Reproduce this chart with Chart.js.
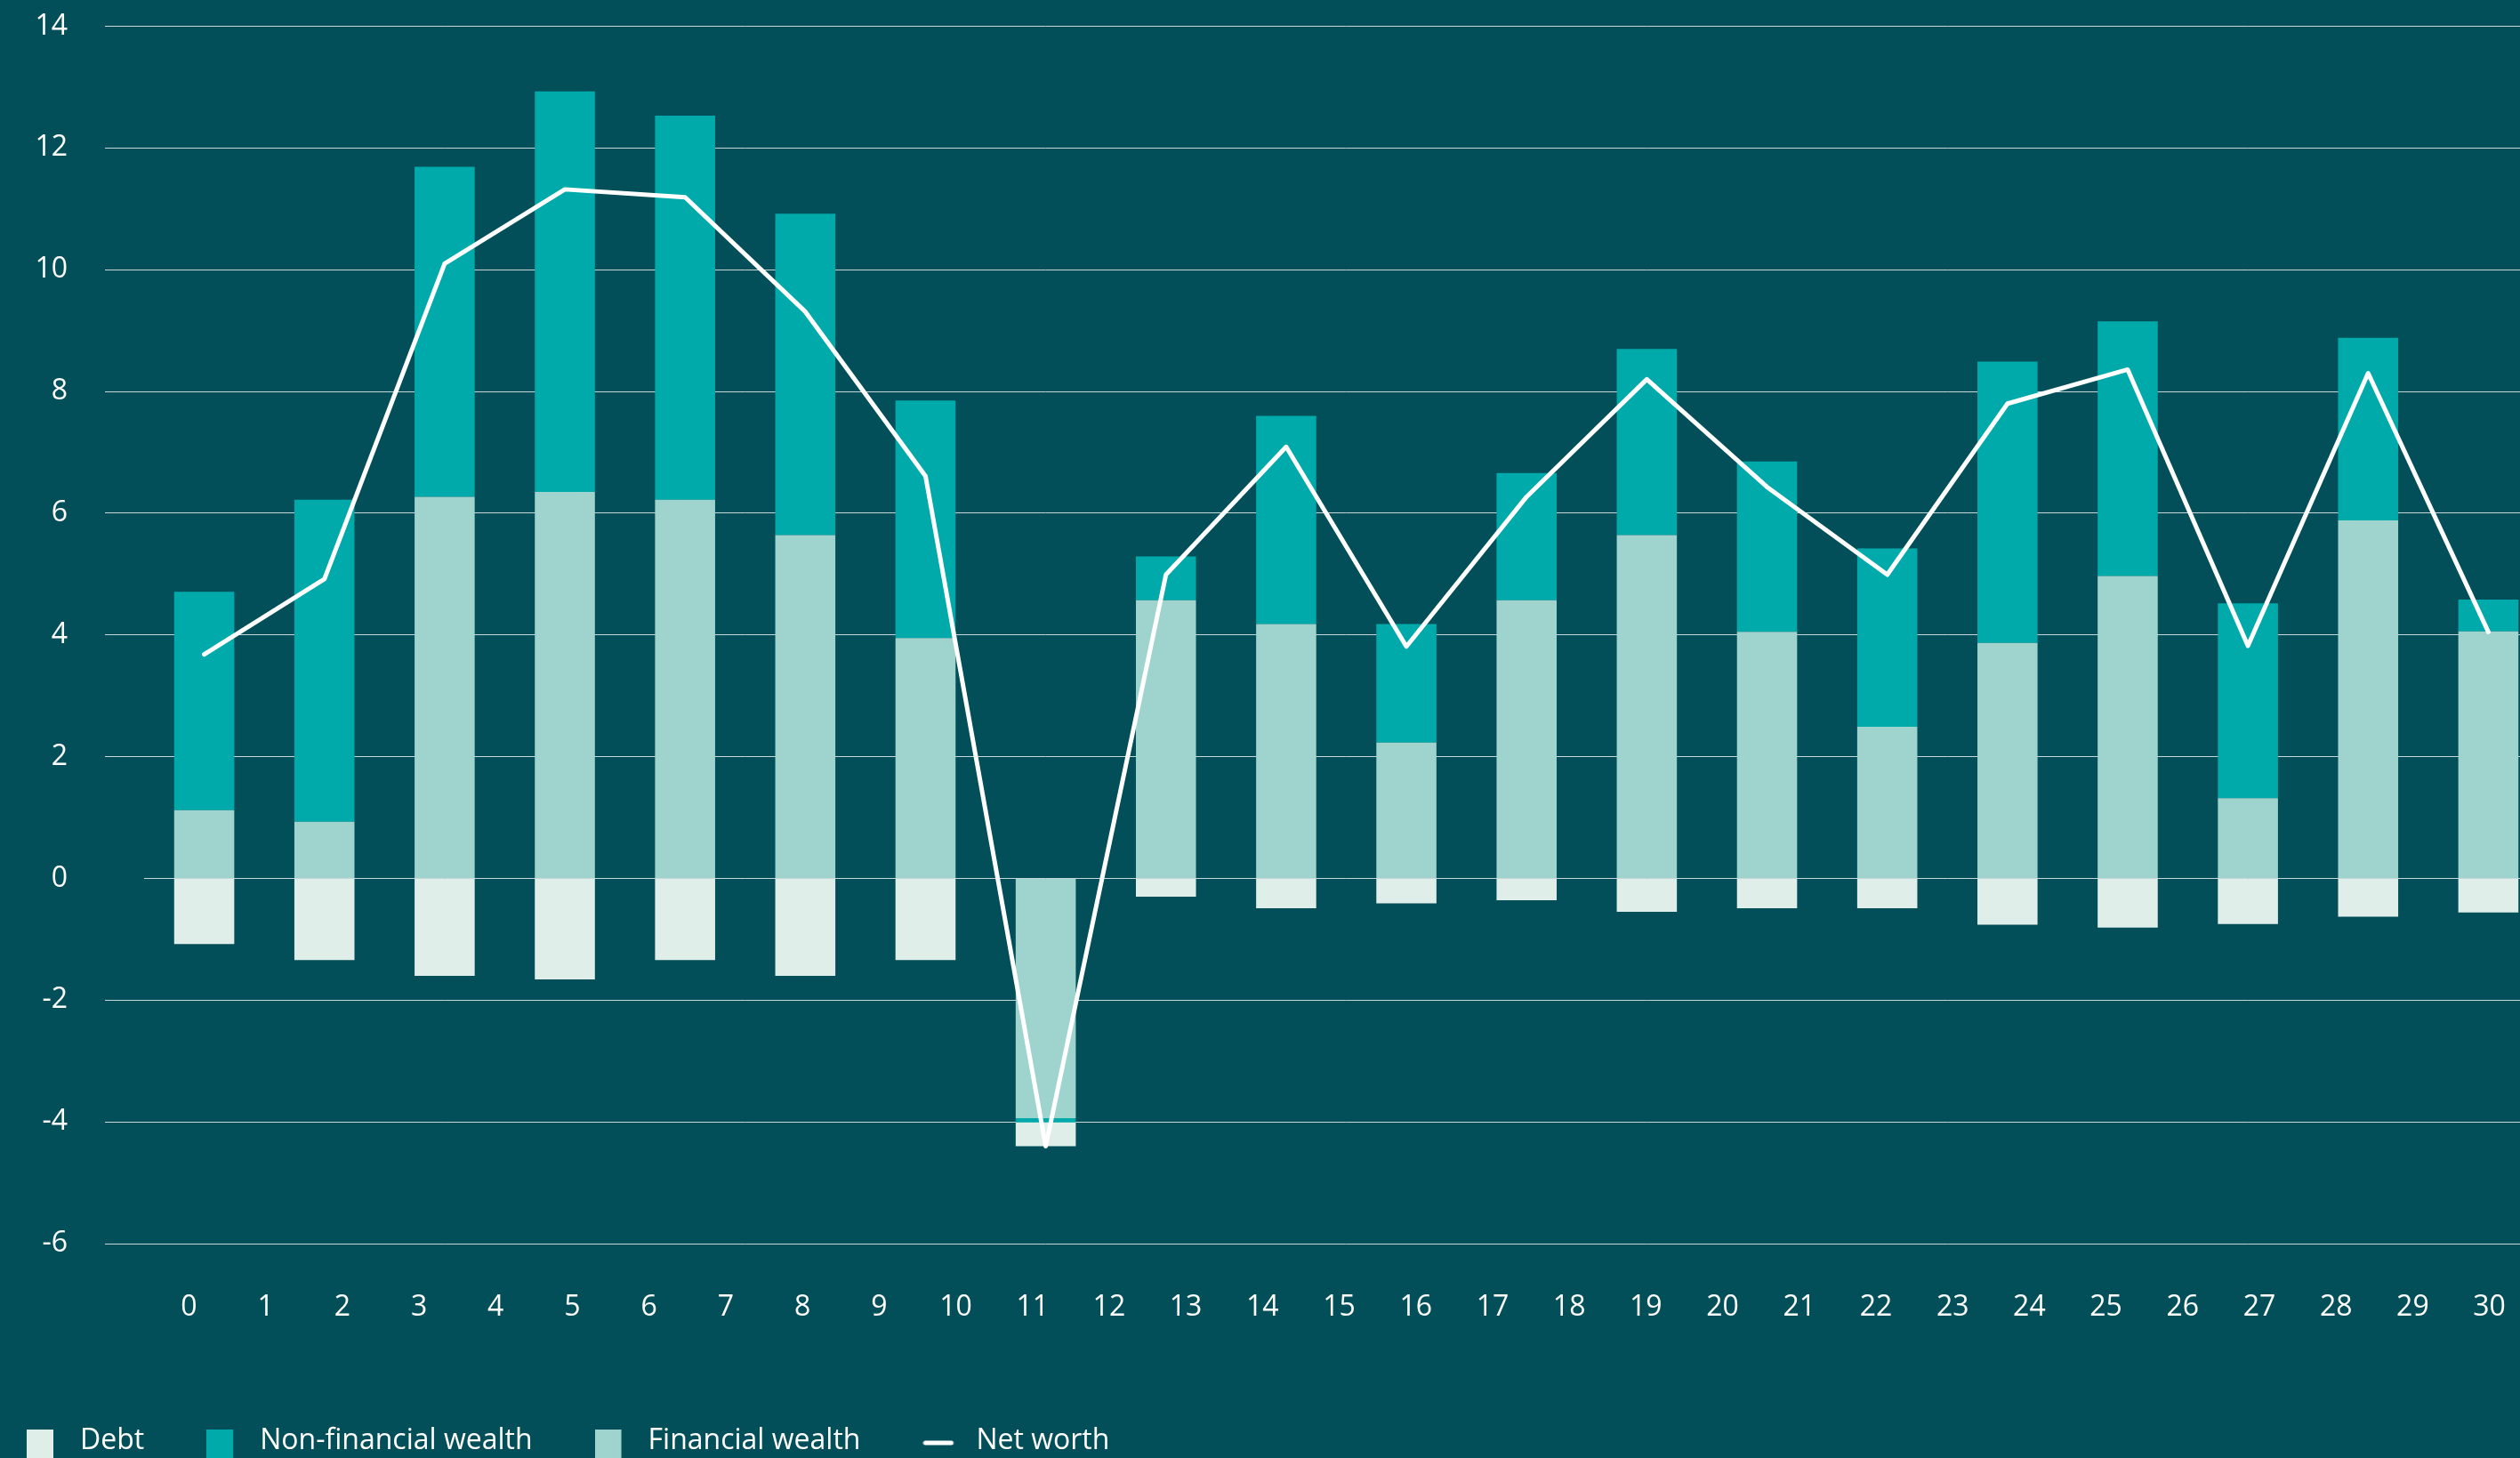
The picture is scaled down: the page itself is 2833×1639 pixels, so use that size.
<!DOCTYPE html>
<html>
<head>
<meta charset="utf-8">
<title>Net worth</title>
<script src="https://cdn.jsdelivr.net/npm/chart.js@4.4.1/dist/chart.umd.min.js"></script>
<style>
  html, body { margin: 0; padding: 0; background: #034f59; overflow: hidden; }
  canvas { display: block; }
</style>
</head>
<body>
<canvas id="wealthChart" width="2900" height="1646"></canvas>
<script>
// one category per bar group
const categories = ["1", "2", "3", "4", "5", "6", "7", "8", "9", "10",
  "11", "12", "13", "14", "15", "16", "17", "18", "19", "20"];
// labels shown along the bottom axis
const tickLabels = ["0", "1", "2", "3", "4", "5", "6", "7", "8", "9", "10",
  "11", "12", "13", "14", "15", "16", "17", "18", "19", "20",
  "21", "22", "23", "24", "25", "26", "27", "28", "29", "30"];

const debt = [-1.08, -1.34, -1.60, -1.66, -1.34, -1.60, -1.34, -0.39, -0.30, -0.49,
  -0.41, -0.36, -0.55, -0.49, -0.49, -0.76, -0.81, -0.75, -0.63, -0.56];
const nonFinancial = [3.59, 5.29, 5.42, 6.58, 6.31, 5.28, 3.90, -0.07, 0.72, 3.42,
  1.95, 2.09, 3.06, 2.80, 2.93, 4.62, 4.18, 3.20, 3.00, 0.52];
const financial = [1.12, 0.93, 6.27, 6.35, 6.22, 5.64, 3.95, -3.94, 4.57, 4.18,
  2.23, 4.57, 5.64, 4.05, 2.49, 3.87, 4.97, 1.32, 5.88, 4.06];
const netWorth = [3.68, 4.92, 10.10, 11.32, 11.19, 9.31, 6.61, -4.40, 4.99, 7.09,
  3.81, 6.27, 8.20, 6.43, 4.99, 7.80, 8.36, 3.82, 8.30, 4.05];

const GRID = "rgba(255, 255, 255, 0.78)";
const FONT = "'Open Sans', sans-serif";
const COLORS = ["#dfeee9", "#00aaaa", "#9ed3ce", "#ffffff"];

// legend swatches: drawn into a 44px slot, box on the left
function boxSwatch(color) {
  const c = document.createElement("canvas");
  c.width = 44;
  c.height = 64;
  const g = c.getContext("2d");
  g.fillStyle = color;
  g.fillRect(0, 19, 30, 45);
  return c;
}

function lineSwatch(color) {
  const c = document.createElement("canvas");
  c.width = 44;
  c.height = 16;
  const g = c.getContext("2d");
  g.strokeStyle = color;
  g.lineWidth = 5;
  g.lineCap = "round";
  g.beginPath();
  g.moveTo(3, 10);
  g.lineTo(32, 10);
  g.stroke();
  return c;
}

const swatches = [boxSwatch(COLORS[0]), boxSwatch(COLORS[1]), boxSwatch(COLORS[2]), lineSwatch(COLORS[3])];

const ctx = document.getElementById("wealthChart").getContext("2d");

new Chart(ctx, {
  type: "bar",
  data: {
    labels: categories,
    datasets: [
      { label: "Debt", data: debt, backgroundColor: COLORS[0], order: 3 },
      { label: "Non-financial wealth", data: nonFinancial, backgroundColor: COLORS[1], order: 2 },
      { label: "Financial wealth", data: financial, backgroundColor: COLORS[2], order: 1 },
      {
        type: "line",
        label: "Net worth",
        data: netWorth,
        borderColor: COLORS[3],
        backgroundColor: COLORS[3],
        borderWidth: 5,
        borderJoinStyle: "round",
        borderCapStyle: "round",
        pointRadius: 0,
        tension: 0,
        order: 0,
      },
    ],
  },
  options: {
    responsive: false,
    animation: false,
    layout: { padding: { left: -40, right: 35, top: 29.5, bottom: 0 } },
    datasets: {
      bar: { barPercentage: 0.5, categoryPercentage: 1 },
    },
    plugins: {
      tooltip: { enabled: false },
      legend: {
        position: "bottom",
        align: "start",
        labels: {
          color: "#ffffff",
          font: { family: FONT, size: 32 },
          padding: 70,
          usePointStyle: true,
          pointStyleWidth: 44,
          generateLabels: function (chart) {
            const items = Chart.defaults.plugins.legend.labels.generateLabels(chart);
            items.forEach(function (item) {
              item.pointStyle = swatches[item.datasetIndex];
            });
            return items;
          },
          sort: (a, b) => a.datasetIndex - b.datasetIndex,
        },
      },
    },
    scales: {
      x: { type: "category", stacked: true, display: false },
      y: {
        stacked: true,
        min: -6,
        max: 14,
        ticks: {
          stepSize: 2,
          color: "#ffffff",
          font: { family: FONT, size: 32 },
          padding: 42,
        },
        grid: {
          color: GRID,
          lineWidth: 1,
          tickLength: 44,
          tickColor: (c) => (c.tick && c.tick.value === 0 ? "transparent" : GRID),
        },
        border: { display: false },
        afterFit: (scale) => {
          scale.width = 202;
          scale.paddingTop = 20;
        },
      },
      x2: {
        type: "linear",
        position: "bottom",
        bounds: "data",
        offset: false,
        min: -0.585,
        max: 30.77,
        grid: { display: false, offset: false },
        border: { display: false },
        ticks: {
          color: "#ffffff",
          font: { family: FONT, size: 32 },
          padding: 45,
          autoSkip: false,
          maxRotation: 0,
          callback: (v) => tickLabels[v],
        },
        afterBuildTicks: (scale) => {
          scale.ticks = tickLabels.map((t, i) => ({ value: i }));
        },
        afterFit: (scale) => { scale.height = 136; },
      },
    },
  },
});
</script>
</body>
</html>
